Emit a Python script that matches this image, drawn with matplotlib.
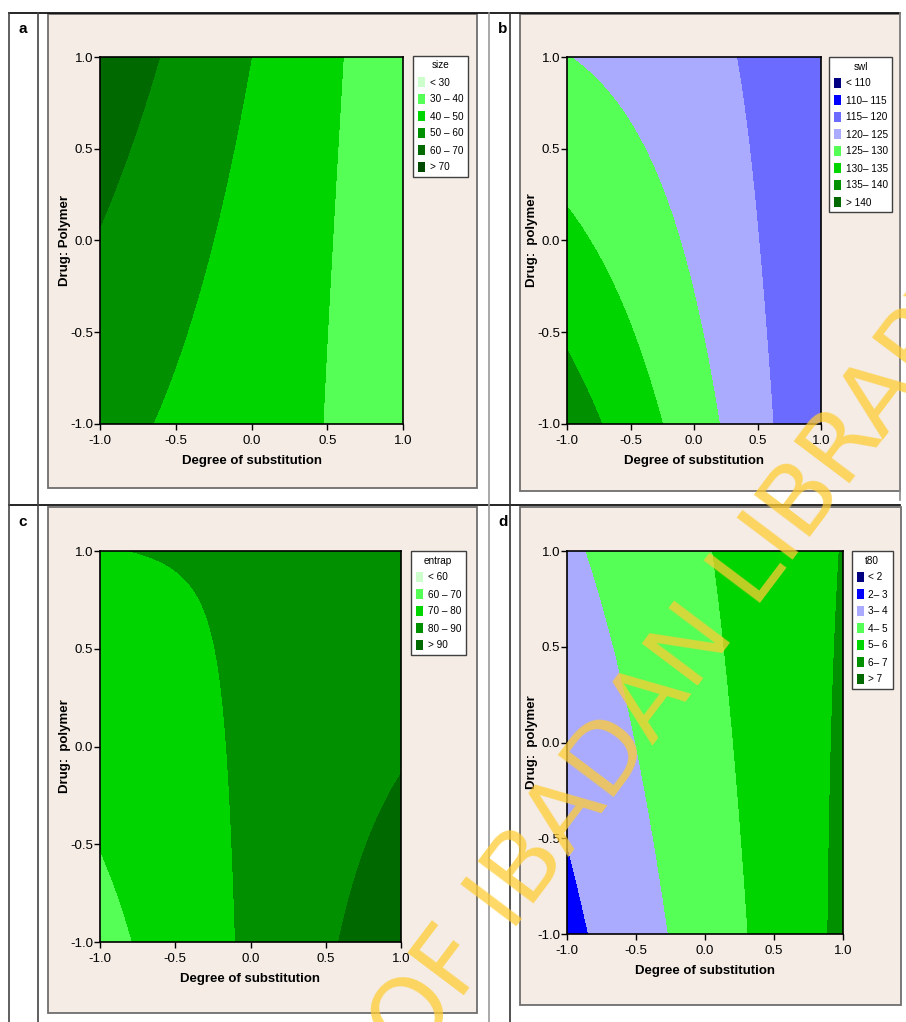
import numpy as np
import matplotlib.pyplot as plt
from matplotlib.patches import Patch, Rectangle
from matplotlib.lines import Line2D

plt.rcParams['font.family'] = ['Liberation Sans Narrow', 'Liberation Sans', 'DejaVu Sans']
plt.rcParams['font.stretch'] = 'condensed'
plt.rcParams['axes.unicode_minus'] = False

# response surface coefficients
# order: b0, b_x, b_y, b_xx, b_yy, b_xy   (x = degree of substitution, y = drug:polymer)
size_coef = [46.8, -12.7, 2.9, 0.0, 0.3, -3.8]
swl_coef = [124.16, -7.76, -2.87, -0.77, 0.24, 3.44]
entrap_coef = [81.24, 7.76, -0.36, 0.0, -0.14, -6.84]
t80_coef = [4.71, 1.41, 0.24, 0.0, -0.01, -0.32]

size_levels = [30, 40, 50, 60, 70]
swl_levels = [110, 115, 120, 125, 130, 135, 140]
entrap_levels = [60, 70, 80, 90]
t80_levels = [2, 3, 4, 5, 6, 7]

ticks = [-1.0, -0.5, 0.0, 0.5, 1.0]
tick_labels = ['-1.0', '-0.5', '0.0', '0.5', '1.0']

# minitab-like palette
pale, light, mid, dark, darker, darkest = '#CCFFCC', '#55FF55', '#00D500', '#009000', '#006A00', '#004A00'
navy, blue, blue2, lav = '#000080', '#0000FF', '#6B6BFF', '#AAAAFF'

size_colors = [pale, light, mid, dark, darker, darkest]
swl_colors = [navy, blue, blue2, lav, light, mid, dark, darker]
entrap_colors = [pale, light, mid, dark, darker]
t80_colors = [navy, blue, lav, light, mid, dark, darker]

W, H = 906, 1022
fig = plt.figure(figsize=(W / 100, H / 100), dpi=100)


def fx(px):
    return px / W


def fy(py):
    return 1 - py / H


def surface(coef, x, y):
    b0, bx, by, bxx, byy, bxy = coef
    return b0 + bx * x + by * y + bxx * x ** 2 + byy * y ** 2 + bxy * x * y


def range_labels(levels, sep=' \u2013 '):
    labs = ['< %g' % levels[0]]
    labs += ['%g%s%g' % (a, sep, b) for a, b in zip(levels[:-1], levels[1:])]
    labs.append('> %g' % levels[-1])
    return labs


xg = np.linspace(-1, 1, 241)
X, Y = np.meshgrid(xg, xg)


def panel(box, rect, legpos, letter, letter_x, coef, levels, colors, title, ylabel,
          sep=' \u2013 '):
    x0, y0, x1, y1 = box
    fig.add_artist(Rectangle((fx(x0), fy(y1)), (x1 - x0) / W, (y1 - y0) / H,
                             transform=fig.transFigure, facecolor='#F4ECE5',
                             edgecolor='#6E6E6E', lw=1.3, zorder=-1))
    l, t, r, b = rect
    ax = fig.add_axes([fx(l), fy(b), (r - l) / W, (b - t) / H])
    Z = surface(coef, X, Y)
    ax.contourf(X, Y, Z, levels=levels, colors=colors, extend='both')
    ax.set_xlim(-1, 1)
    ax.set_ylim(-1, 1)
    ax.set_xticks(ticks)
    ax.set_xticklabels(tick_labels)
    ax.set_yticks(ticks)
    ax.set_yticklabels(tick_labels)
    ax.tick_params(direction='out', length=4, width=1, labelsize=9.5)
    ax.tick_params(axis='x', pad=4)
    ax.tick_params(axis='y', pad=1)
    for s in ax.spines.values():
        s.set_linewidth(1.2)
    ax.set_xlabel('Degree of substitution', fontsize=9.5, fontweight='bold', labelpad=6)
    ax.set_ylabel(ylabel, fontsize=9.5, fontweight='bold', labelpad=-1)
    handles = [Patch(facecolor=c, edgecolor='none') for c in colors]
    leg = ax.legend(handles, range_labels(levels, sep), title=title,
                    loc='upper left', bbox_to_anchor=(fx(legpos[0]), fy(legpos[1])),
                    bbox_transform=fig.transFigure, borderaxespad=0,
                    fontsize=7.2, title_fontsize=7.2, frameon=True, fancybox=False,
                    edgecolor='#404040', framealpha=1, handlelength=0.7,
                    handleheight=1.1, handletextpad=0.5, labelspacing=0.68,
                    borderpad=0.45)
    leg.get_frame().set_linewidth(1.0)
    fig.text(fx(letter_x), fy(y0 + 15), letter, fontsize=11, fontweight='bold',
             ha='center', va='center')
    return ax


panel((48, 14, 477, 488), (100, 57, 403, 424), (413, 56), 'a', 23,
      size_coef, size_levels, size_colors, 'size', 'Drug: Polymer')
panel((520, 14, 900, 491), (567, 57, 821, 424), (829, 57), 'b', 503,
      swl_coef, swl_levels, swl_colors, 'swl', 'Drug:  polymer', sep='\u2013 ')
panel((48, 507, 477, 1013), (100, 551, 401, 942), (411, 551), 'c', 23,
      entrap_coef, entrap_levels, entrap_colors, 'entrap', 'Drug:  polymer')
panel((520, 507, 901, 1005), (567, 551, 843, 934), (852, 551), 'd', 503,
      t80_coef, t80_levels, t80_colors, 't80', 'Drug:  polymer', sep='\u2013 ')

# table rules of the original page
rules = [((9, 900), (13, 13), 'black'), ((9, 900), (505, 505), 'black'),
         ((9, 9), (13, 1022), '#444444'), ((38, 38), (13, 1022), '#444444'),
         ((489, 489), (13, 1022), '#999999'), ((510, 510), (13, 1022), '#333333'),
         ((900, 900), (13, 500), '#888888')]
for xs, ys, c in rules:
    fig.add_artist(Line2D([fx(v) for v in xs], [fy(v) for v in ys],
                          transform=fig.transFigure, color=c, lw=1.2, zorder=-0.5))

# library watermark
fig.text(fx(975), fy(275), 'UNIVERSITY OF IBADAN LIBRARY', ha='right', va='center',
         rotation=53, rotation_mode='anchor', fontsize=70, family='DejaVu Sans',
         stretch='normal', color='#FFCC33', alpha=0.75, zorder=10)

fig.savefig('out.png', dpi=100)
